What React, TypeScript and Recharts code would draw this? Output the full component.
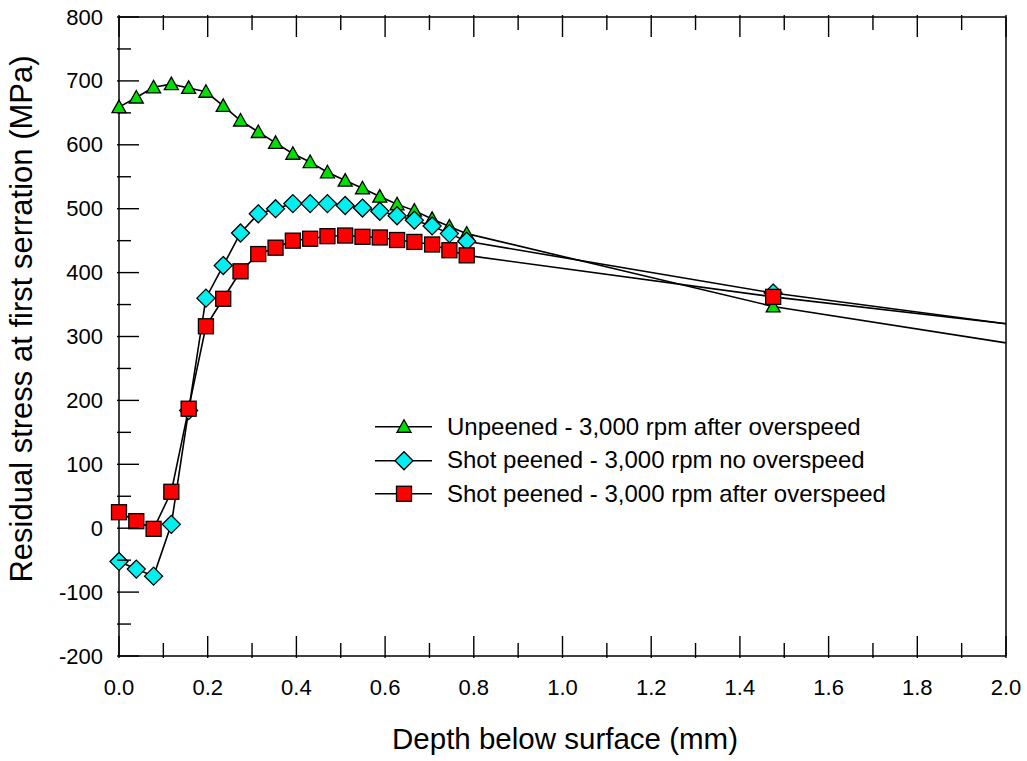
import React from 'react';
import { LineChart, Line, XAxis, YAxis, Legend } from 'recharts';

// Depth below surface of each measurement (mm)
const depths = [
  0, 0.039, 0.078, 0.118, 0.157, 0.196, 0.235, 0.274, 0.314, 0.353, 0.392,
  0.431, 0.47, 0.51, 0.549, 0.588, 0.627, 0.666, 0.706, 0.745, 0.784, 1.475, 2.0,
];

// Residual stress at first serration (MPa)
const unpeened = [
  659, 674, 690, 695, 689, 683, 661, 638, 620, 603, 586,
  573, 557, 544, 532, 519, 507, 497, 484, 472, 461, 347, 290,
];
const peenedNoOverspeed = [
  -52, -64, -75, 6, 184, 360, 411, 462, 492, 500, 508,
  508, 508, 505, 501, 496, 489, 482, 473, 461, 449, 368, 320,
];
const peenedOverspeed = [
  25, 11, -1, 57, 187, 316, 359, 402, 429, 439, 450,
  453, 457, 458, 456, 455, 451, 448, 444, 435, 427, 362, 320,
];

const xTicks = [
  0, 0.1, 0.2, 0.3, 0.4, 0.5, 0.6, 0.7, 0.8, 0.9, 1.0,
  1.1, 1.2, 1.3, 1.4, 1.5, 1.6, 1.7, 1.8, 1.9, 2.0,
];
const yTicks = [
  -200, -150, -100, -50, 0, 50, 100, 150, 200, 250, 300,
  350, 400, 450, 500, 550, 600, 650, 700, 750, 800,
];

const FONT = '"Liberation Sans", Arial, Helvetica, sans-serif';

type Shape = 'triangle' | 'diamond' | 'square';

const series: { key: string; name: string; values: number[]; shape: Shape; fill: string }[] = [
  { key: 'unpeened', name: 'Unpeened - 3,000 rpm after overspeed', values: unpeened, shape: 'triangle', fill: '#00e000' },
  { key: 'peenedNo', name: 'Shot peened - 3,000 rpm no overspeed', values: peenedNoOverspeed, shape: 'diamond', fill: '#00f0f0' },
  { key: 'peenedOver', name: 'Shot peened - 3,000 rpm after overspeed', values: peenedOverspeed, shape: 'square', fill: '#ff0000' },
];

const rows = depths.map((depth, i) => {
  const row: Record<string, number> = { depth };
  series.forEach((s) => {
    row[s.key] = s.values[i];
  });
  return row;
});

const Marker = ({ cx, cy, shape, fill }: { cx: number; cy: number; shape: Shape; fill: string }) => {
  const common = { fill, stroke: '#000', strokeWidth: 1.3 };
  if (shape === 'triangle') {
    return <polygon points={`${cx},${cy - 7} ${cx - 7},${cy + 5.5} ${cx + 7},${cy + 5.5}`} {...common} />;
  }
  if (shape === 'diamond') {
    return <polygon points={`${cx},${cy - 9} ${cx + 9},${cy} ${cx},${cy + 9} ${cx - 9},${cy}`} {...common} />;
  }
  return <rect x={cx - 7.5} y={cy - 7.5} width={15} height={15} {...common} />;
};

const isMajorX = (v: number) => Math.round(v * 10) % 2 === 0;
const isMajorY = (v: number) => Math.round(v) % 100 === 0;

const BottomTick = (props: any) => {
  const { x, y, payload } = props;
  const major = isMajorX(payload.value);
  return (
    <g>
      <line x1={x} x2={x} y1={y} y2={y - (major ? 22 : 15)} stroke="#000" strokeWidth={1.4} />
      {major && (
        <text x={x} y={y + 37} textAnchor="middle" fontSize={22} fontFamily={FONT} fill="#000">
          {payload.value.toFixed(1)}
        </text>
      )}
    </g>
  );
};

const TopTick = (props: any) => {
  const { x, y, payload } = props;
  const major = isMajorX(payload.value);
  return <line x1={x} x2={x} y1={y} y2={y + (major ? 22 : 15)} stroke="#000" strokeWidth={1.4} />;
};

const LeftTick = (props: any) => {
  const { x, y, payload } = props;
  const major = isMajorY(payload.value);
  return (
    <g>
      <line x1={x} x2={x + (major ? 22 : 14)} y1={y} y2={y} stroke="#000" strokeWidth={1.4} />
      {major && (
        <text x={x - 14} y={y + 7.5} textAnchor="end" fontSize={22} fontFamily={FONT} fill="#000">
          {payload.value}
        </text>
      )}
    </g>
  );
};

const RightTick = (props: any) => {
  const { x, y, payload } = props;
  const major = isMajorY(payload.value);
  return <line x1={x} x2={x - (major ? 22 : 14)} y1={y} y2={y} stroke="#000" strokeWidth={1.4} />;
};

const LegendBox = () => (
  <div style={{ fontFamily: FONT, fontSize: 24, color: '#000' }}>
    {series.map((s) => (
      <div key={s.key} style={{ display: 'flex', alignItems: 'center', height: 33.5 }}>
        <svg width={72} height={33.5} style={{ flexShrink: 0 }}>
          <line x1={0} x2={57} y1={16.75} y2={16.75} stroke="#000" strokeWidth={1.5} />
          <Marker cx={29} cy={16.75} shape={s.shape} fill={s.fill} />
        </svg>
        <span style={{ whiteSpace: 'nowrap', lineHeight: 1 }}>{s.name}</span>
      </div>
    ))}
  </div>
);

const XTitle = () => (
  <text x={565} y={749} textAnchor="middle" fontSize={29.5} fontFamily={FONT} fill="#000">
    Depth below surface (mm)
  </text>
);

const YTitle = () => (
  <text
    x={32}
    y={319}
    textAnchor="middle"
    fontSize={31}
    fontFamily={FONT}
    fill="#000"
    transform="rotate(-90, 32, 319)"
  >
    Residual stress at first serration (MPa)
  </text>
);

export default function App() {
  return (
    <div style={{ position: 'absolute', left: 0, top: 0, width: 1027, height: 761, background: '#fff' }}>
      <LineChart width={1027} height={761} data={rows} margin={{ top: 0, right: 0, bottom: 0, left: 0 }}>
        <XAxis
          xAxisId="bottom"
          orientation="bottom"
          dataKey="depth"
          type="number"
          domain={[0, 2]}
          ticks={xTicks}
          interval={0}
          height={105}
          tickSize={0}
          tickLine={false}
          tick={<BottomTick />}
          axisLine={{ stroke: '#000', strokeWidth: 1.5 }}
          label={<XTitle />}
        />
        <XAxis
          xAxisId="top"
          orientation="top"
          dataKey="depth"
          type="number"
          domain={[0, 2]}
          ticks={xTicks}
          interval={0}
          height={17}
          tickSize={0}
          tickLine={false}
          tick={<TopTick />}
          axisLine={{ stroke: '#000', strokeWidth: 1.5 }}
        />
        <YAxis
          yAxisId="left"
          orientation="left"
          type="number"
          domain={[-200, 800]}
          ticks={yTicks}
          interval={0}
          width={119}
          tickSize={0}
          tickLine={false}
          tick={<LeftTick />}
          axisLine={{ stroke: '#000', strokeWidth: 1.5 }}
          label={<YTitle />}
        />
        <YAxis
          yAxisId="right"
          orientation="right"
          type="number"
          domain={[-200, 800]}
          ticks={yTicks}
          interval={0}
          width={21}
          tickSize={0}
          tickLine={false}
          tick={<RightTick />}
          axisLine={{ stroke: '#000', strokeWidth: 1.5 }}
        />
        {series.map((s) => (
          <Line
            key={s.key}
            xAxisId="bottom"
            yAxisId="left"
            type="linear"
            dataKey={s.key}
            name={s.name}
            stroke="#000"
            strokeWidth={1.6}
            isAnimationActive={false}
            activeDot={false}
            dot={(p: any) =>
              p.payload.depth >= 2 ? (
                <g key={`${s.key}-${p.index}`} />
              ) : (
                <Marker key={`${s.key}-${p.index}`} cx={p.cx} cy={p.cy} shape={s.shape} fill={s.fill} />
              )
            }
          />
        ))}
        <Legend
          layout="vertical"
          align="center"
          verticalAlign="middle"
          content={<LegendBox />}
          wrapperStyle={{ left: 375, top: 410, width: 'auto' }}
        />
      </LineChart>
    </div>
  );
}
